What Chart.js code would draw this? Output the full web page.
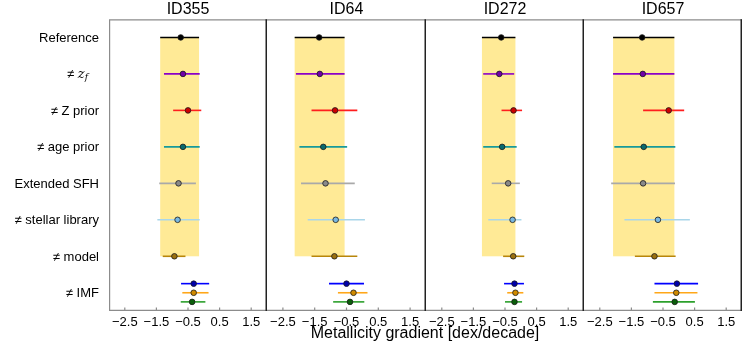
<!DOCTYPE html>
<html>
<head>
  <title>Metallicity gradient per galaxy</title>
  <style>
    body {
      margin: 0;
      background: #fff;
      font-family: "Liberation Sans", Arial, sans-serif;
    }
    #wrap {
      position: relative;
      width: 747px;
      height: 346px;
    }
    .panel {
      position: absolute;
      top: 0;
    }
    #xlabel {
      position: absolute;
      left: 225px;
      width: 400px;
      top: 324px;
      text-align: center;
      font-size: 16px;
      color: #000;
    }
  </style>
</head>
<body>
  <div id="wrap">
    <canvas class="panel" id="p0" width="267" height="346" style="left:0px"></canvas>
    <canvas class="panel" id="p1" width="159" height="346" style="left:267px"></canvas>
    <canvas class="panel" id="p2" width="158" height="346" style="left:426px"></canvas>
    <canvas class="panel" id="p3" width="163" height="346" style="left:584px"></canvas>
    <div id="xlabel">Metallicity gradient [dex/decade]</div>
  </div>

  <script src="https://cdn.jsdelivr.net/npm/chart.js"></script>
  <script>
    const panelNames = ["ID355", "ID64", "ID272", "ID657"];
    const rowLabels = ["Reference", "≠ z_f", "≠ Z prior", "≠ age prior", "Extended SFH",
                       "≠ stellar library", "≠ model", "≠ IMF"];
    // row of each series (the three IMF runs share the last row)
    const rowPos = [0, 1, 2, 3, 4, 5, 6, 6.75, 7, 7.25];
    const xTicks = [-2.5, -1.5, -0.5, 0.5, 1.5];

    const lineColors = ["#000000", "#8a00c8", "#ff1e1e", "#179a9a", "#a9a9a9",
                        "#a9d6ea", "#b8860b", "#0000ff", "#ffa719", "#2ca02c"];
    const markerColors = ["#000000", "#7000a8", "#cc0000", "#0a6a6e", "#8a8a8a",
                          "#7ab8e0", "#9a7010", "#0000aa", "#d08a00", "#0b5e0b"];

    // gradient estimates: centre, lower and upper ends
    const id355Mid = [-0.73, -0.66, -0.50, -0.66, -0.80, -0.83, -0.93, -0.32, -0.32, -0.37];
    const id355Lo  = [-1.38, -1.26, -0.97, -1.26, -1.41, -1.47, -1.30, -0.72, -0.68, -0.73];
    const id355Hi  = [-0.15, -0.13, -0.08, -0.13, -0.25, -0.13, -0.58, 0.17, 0.15, 0.05];

    const id64Mid = [-1.36, -1.34, -0.86, -1.23, -1.16, -0.84, -0.88, -0.50, -0.28, -0.39];
    const id64Lo  = [-2.13, -2.09, -1.60, -1.98, -1.93, -1.72, -1.60, -1.05, -0.77, -0.92];
    const id64Hi  = [-0.56, -0.56, -0.16, -0.48, -0.24, 0.08, -0.16, 0.05, 0.16, 0.06];

    const id272Mid = [-0.62, -0.68, -0.23, -0.59, -0.40, -0.26, -0.24, -0.20, -0.17, -0.20];
    const id272Lo  = [-1.23, -1.19, -0.61, -1.19, -0.92, -1.03, -0.56, -0.53, -0.43, -0.50];
    const id272Hi  = [-0.17, -0.21, 0.04, -0.13, -0.03, 0.02, 0.11, 0.10, 0.08, 0.04];

    const id657Mid = [-1.16, -1.14, -0.32, -1.11, -1.13, -0.66, -0.77, -0.06, -0.08, -0.13];
    const id657Lo  = [-2.08, -2.08, -1.13, -2.04, -2.14, -1.72, -1.39, -0.77, -0.77, -0.82];
    const id657Hi  = [-0.14, -0.14, 0.17, -0.11, -0.12, 0.35, -0.10, 0.61, 0.59, 0.51];

    const panelMid = [id355Mid, id64Mid, id272Mid, id657Mid];
    const panelLo = [id355Lo, id64Lo, id272Lo, id657Lo];
    const panelHi = [id355Hi, id64Hi, id272Hi, id657Hi];

    const bandColor = "#ffea96";
    const fontFamily = "'Liberation Sans', Arial, sans-serif";

    // yellow band from the reference run + horizontal error bars
    const errorBars = {
      id: "errorBars",
      beforeDatasetsDraw(chart) {
        const ctx = chart.ctx;
        const x = chart.scales.x, y = chart.scales.y;
        const ref = chart.data.datasets[0].data[0];
        ctx.save();
        const bx0 = x.getPixelForValue(ref.xMin), bx1 = x.getPixelForValue(ref.xMax);
        const by0 = y.getPixelForValue(0), by1 = y.getPixelForValue(6);
        ctx.fillStyle = bandColor;
        ctx.fillRect(bx0, by0, bx1 - bx0, by1 - by0);
        ctx.lineWidth = 1.6;
        chart.data.datasets.forEach(ds => {
          const p = ds.data[0];
          const py = y.getPixelForValue(p.y);
          ctx.strokeStyle = ds.barColor;
          ctx.beginPath();
          ctx.moveTo(x.getPixelForValue(p.xMin), py);
          ctx.lineTo(x.getPixelForValue(p.xMax), py);
          ctx.stroke();
        });
        ctx.restore();
      }
    };

    // axes frame and inward tick marks
    const frame = {
      id: "frame",
      afterDraw(chart, args, opts) {
        const ctx = chart.ctx;
        const a = chart.chartArea;
        ctx.save();
        ctx.lineWidth = 1.2;
        ctx.strokeStyle = "#8c8c8c";
        ctx.beginPath();
        ctx.moveTo(a.left, a.top + 0.6);
        ctx.lineTo(a.right, a.top + 0.6);
        ctx.moveTo(a.left, a.bottom - 0.6);
        ctx.lineTo(a.right, a.bottom - 0.6);
        if (opts.first) {
          ctx.moveTo(a.left + 0.6, a.top);
          ctx.lineTo(a.left + 0.6, a.bottom);
        }
        chart.scales.x.ticks.forEach(t => {
          const px = chart.scales.x.getPixelForValue(t.value);
          ctx.moveTo(px, a.bottom);
          ctx.lineTo(px, a.bottom - 3.5);
        });
        ctx.stroke();
        ctx.lineWidth = 1.5;
        ctx.strokeStyle = "#222";
        ctx.beginPath();
        ctx.moveTo(a.right - 0.75, a.top);
        ctx.lineTo(a.right - 0.75, a.bottom);
        ctx.stroke();
        ctx.restore();
      }
    };

    // row names on the left of the first panel
    const rowText = {
      id: "rowText",
      afterDraw(chart, args, opts) {
        if (!opts.show) return;
        const ctx = chart.ctx;
        const y = chart.scales.y;
        const xr = chart.chartArea.left - 10;
        ctx.save();
        ctx.fillStyle = "#000";
        ctx.textBaseline = "middle";
        rowLabels.forEach((lab, i) => {
          const py = y.getPixelForValue(i) + 1;
          if (lab === "≠ z_f") {
            const f1 = "13px " + fontFamily;
            const f2 = "italic 13px 'DejaVu Serif', serif";
            const f3 = "italic 9px 'DejaVu Serif', serif";
            ctx.font = f1; const w1 = ctx.measureText("≠ ").width;
            ctx.font = f2; const w2 = ctx.measureText("z").width;
            ctx.font = f3; const w3 = ctx.measureText("f").width;
            let px = xr - 11 - (w1 + w2 + w3);
            ctx.textAlign = "left";
            ctx.font = f1; ctx.fillText("≠ ", px, py); px += w1;
            ctx.font = f2; ctx.fillText("z", px, py); px += w2;
            ctx.font = f3; ctx.fillText("f", px, py + 3);
          } else {
            ctx.font = "13px " + fontFamily;
            ctx.textAlign = "right";
            ctx.fillText(lab, xr, py);
          }
        });
        ctx.restore();
      }
    };

    function makePanel(i) {
      const datasets = rowPos.map((r, k) => ({
        data: [{ x: panelMid[i][k], y: r, xMin: panelLo[i][k], xMax: panelHi[i][k] }],
        barColor: lineColors[k],
        pointBackgroundColor: markerColors[k],
        pointBorderColor: "#1a1a1a",
        pointBorderWidth: 0.8,
        pointRadius: 2.8,
        showLine: false
      }));
      const first = i === 0;
      new Chart(document.getElementById("p" + i), {
        type: "scatter",
        data: { datasets: datasets },
        plugins: [errorBars, frame, rowText],
        options: {
          responsive: false,
          animation: false,
          layout: { autoPadding: false, padding: { left: 0, right: i === 3 ? 5 : 0, top: 0, bottom: 0 } },
          plugins: {
            legend: { display: false },
            tooltip: { enabled: false },
            title: {
              display: true,
              text: panelNames[i],
              fullSize: false,
              color: "#000",
              padding: 0,
              font: { size: 16, family: fontFamily, weight: "normal", lineHeight: 1.2 }
            },
            frame: { first: first },
            rowText: { show: first }
          },
          scales: {
            x: {
              type: "linear",
              min: -3,
              max: 2,
              grid: { display: false, drawTicks: false },
              border: { display: false },
              afterBuildTicks: s => { s.ticks = xTicks.map(v => ({ value: v })); },
              afterFit: s => { s.height = 35; s.paddingLeft = 0; s.paddingRight = 0; },
              ticks: {
                autoSkip: false,
                maxRotation: 0,
                padding: 4,
                color: "#000",
                font: { size: 13, family: fontFamily },
                callback: v => (v < 0 ? "\u2212" : "") + Math.abs(v).toFixed(1)
              }
            },
            y: {
              type: "linear",
              min: -0.5,
              max: 7.5,
              reverse: true,
              display: first,
              grid: { display: false, drawTicks: false },
              border: { display: false },
              ticks: { display: false },
              afterFit: s => { s.width = first ? 109 : 0; }
            }
          }
        }
      });
    }

    panelNames.forEach((_, i) => makePanel(i));
  </script>
</body>
</html>
